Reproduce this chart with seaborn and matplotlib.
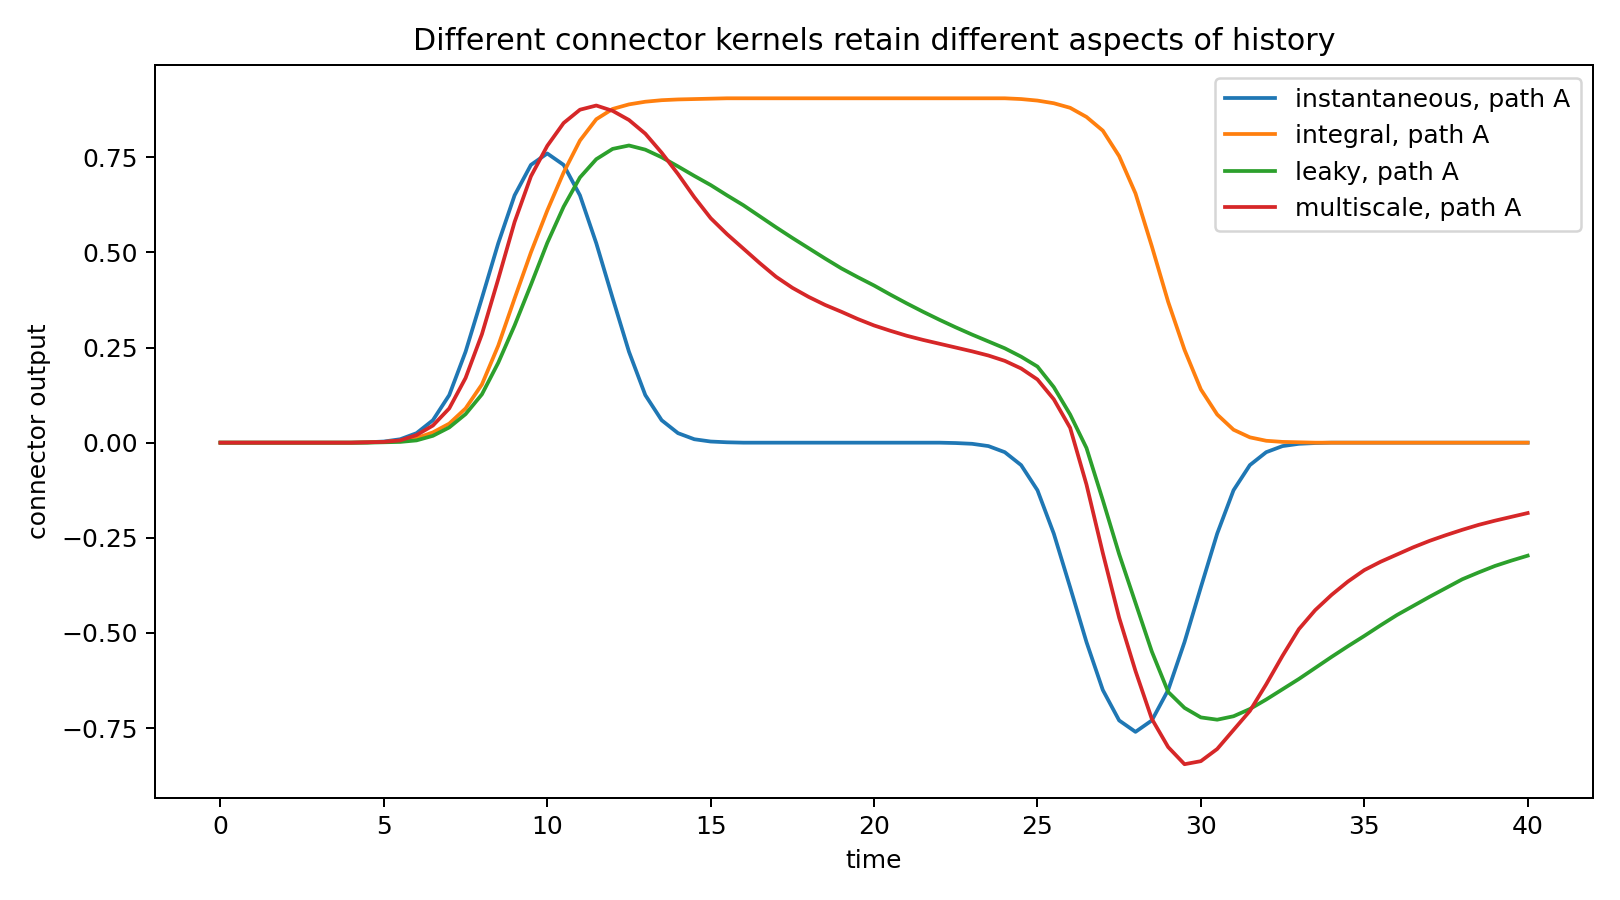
import numpy as np
import pandas as pd
import matplotlib
matplotlib.use("Agg")
import matplotlib.pyplot as plt
import seaborn as sns

# time grid (0 to 40, step 0.5)
time = [i * 0.5 for i in range(81)]

instantaneous = [
    0, 0, 0, 0, 0, 0, 0, 0, 0, 0.001,
    0.003, 0.009, 0.025, 0.059, 0.125, 0.239, 0.38, 0.524, 0.65, 0.73,
    0.76, 0.73, 0.65, 0.524, 0.38, 0.239, 0.125, 0.059, 0.025, 0.009,
    0.003, 0.001, 0, 0, 0, 0, 0, 0, 0, 0,
    0, 0, 0, 0, 0, -0.001, -0.003, -0.009, -0.025, -0.059,
    -0.125, -0.239, -0.38, -0.524, -0.65, -0.73, -0.76, -0.73, -0.65, -0.524,
    -0.38, -0.239, -0.125, -0.059, -0.025, -0.009, -0.003, -0.001, 0, 0,
    0, 0, 0, 0, 0, 0, 0, 0, 0, 0,
    0,
]

integral = [
    0, 0, 0, 0, 0, 0, 0, 0, 0, 0.001,
    0.002, 0.005, 0.012, 0.027, 0.05, 0.09, 0.153, 0.255, 0.379, 0.50,
    0.61, 0.71, 0.794, 0.85, 0.877, 0.889, 0.896, 0.9, 0.902, 0.903,
    0.904, 0.905, 0.905, 0.905, 0.905, 0.905, 0.905, 0.905, 0.905, 0.905,
    0.905, 0.905, 0.905, 0.905, 0.905, 0.905, 0.905, 0.905, 0.905, 0.903,
    0.899, 0.892, 0.88, 0.856, 0.82, 0.753, 0.655, 0.516, 0.37, 0.244,
    0.14, 0.074, 0.034, 0.014, 0.005, 0.002, 0.001, 0, 0, 0,
    0, 0, 0, 0, 0, 0, 0, 0, 0, 0,
    0,
]

leaky = [
    0, 0, 0, 0, 0, 0, 0, 0, 0, 0,
    0.001, 0.002, 0.006, 0.018, 0.04, 0.075, 0.127, 0.21, 0.308, 0.415,
    0.525, 0.62, 0.697, 0.745, 0.772, 0.781, 0.77, 0.75, 0.726, 0.701,
    0.677, 0.65, 0.624, 0.595, 0.566, 0.538, 0.511, 0.484, 0.458, 0.435,
    0.413, 0.389, 0.366, 0.344, 0.323, 0.303, 0.284, 0.266, 0.248, 0.226,
    0.2, 0.146, 0.074, -0.014, -0.151, -0.293, -0.421, -0.549, -0.655, -0.697,
    -0.722, -0.728, -0.719, -0.70, -0.675, -0.648, -0.621, -0.592, -0.563, -0.535,
    -0.508, -0.48, -0.453, -0.429, -0.405, -0.382, -0.359, -0.341, -0.324, -0.31,
    -0.297,
]

multiscale = [
    0, 0, 0, 0, 0, 0, 0, 0, 0, 0.001,
    0.002, 0.006, 0.02, 0.045, 0.09, 0.17, 0.285, 0.43, 0.58, 0.70,
    0.78, 0.84, 0.875, 0.886, 0.872, 0.848, 0.812, 0.762, 0.706, 0.645,
    0.59, 0.548, 0.51, 0.472, 0.436, 0.407, 0.383, 0.362, 0.344, 0.325,
    0.308, 0.294, 0.281, 0.27, 0.26, 0.25, 0.24, 0.229, 0.215, 0.195,
    0.166, 0.114, 0.039, -0.11, -0.29, -0.46, -0.60, -0.726, -0.80, -0.845,
    -0.837, -0.805, -0.755, -0.705, -0.635, -0.56, -0.49, -0.44, -0.40, -0.365,
    -0.335, -0.313, -0.294, -0.275, -0.258, -0.243, -0.229, -0.216, -0.205, -0.195,
    -0.185,
]

labels = ["instantaneous, path A", "integral, path A", "leaky, path A", "multiscale, path A"]
series = [instantaneous, integral, leaky, multiscale]
colors = ["#1f77b4", "#ff7f0e", "#2ca02c", "#d62728"]

frames = []
for lab, vals in zip(labels, series):
    frames.append(pd.DataFrame({"time": time, "value": vals, "kernel": lab}))
df = pd.concat(frames, ignore_index=True)

fig, ax = plt.subplots(figsize=(9, 5), dpi=180)
sns.lineplot(data=df, x="time", y="value", hue="kernel", hue_order=labels,
             palette=colors, estimator=None, sort=False, linewidth=1.5, ax=ax)
ax.set_title("Different connector kernels retain different aspects of history")
ax.set_xlabel("time")
ax.set_ylabel("connector output")
ax.legend(loc="upper right")
fig.tight_layout()
fig.savefig("out.png", dpi=180)
